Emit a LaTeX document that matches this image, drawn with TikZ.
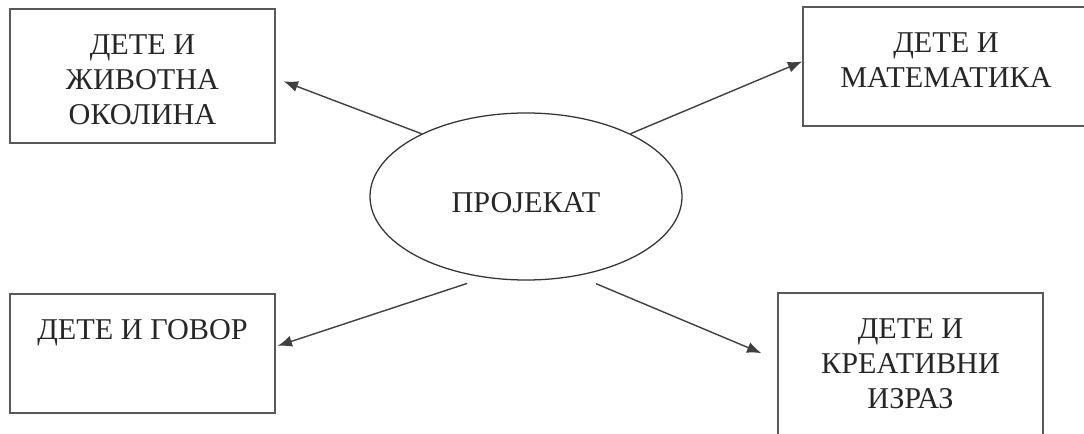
\documentclass[tikz,border=0pt]{standalone}
\usepackage{fontspec}
\setmainfont{Liberation Serif}
\usetikzlibrary{shapes.geometric, arrows.meta, positioning}
\tikzset{
  kutija/.style={draw=black!65, line width=1pt, inner sep=0pt},
  natpis/.style={align=center, inner sep=0pt, anchor=north, text=black!85,
    font=\fontsize{21.5}{24.9}\selectfont},
  strelica/.style={draw=black!75, line width=1pt, -{Latex[length=3.6mm, width=2.8mm]}}
}

\begin{document}
\begin{tikzpicture}[x=0.25mm, y=-0.25mm]
    % okvir (slika je odsecena desno i dole)
    \useasboundingbox (0,0) rectangle (1084,434);
    \clip (0,0) rectangle (1084,434);
    % elipsa u sredini
    \node[draw=black!80, line width=0.9pt, ellipse, inner sep=0pt,
      minimum width=78mm, minimum height=41.75mm,
      text=black!85, font=\fontsize{21.5}{24.9}\selectfont,
      text height=8.2mm, text depth=0pt] (projekat) at (526,196.5) {ПРОЈЕКАТ};
    % kutije
    \node[kutija, minimum width=66.25mm, minimum height=33.5mm] (okolina) at (142.5,76) {};
    \node[kutija, minimum width=71.5mm, minimum height=29.75mm] (matematika) at (946,66.5) {};
    \node[kutija, minimum width=66.25mm, minimum height=29.75mm] (govor) at (142.5,353.5) {};
    \node[kutija, minimum width=66.25mm, minimum height=35.75mm] (izraz) at (910.5,364.5) {};
    % tekst u kutijama
    \node[natpis] (okolinaT) at ([yshift=-6.5mm]okolina.north) {ДЕТЕ И\\ЖИВОТНА\\ОКОЛИНА};
    \node[natpis] (matematikaT) at ([yshift=-6.5mm]matematika.north) {ДЕТЕ И\\МАТЕМАТИКА};
    \node[natpis] (govorT) at ([yshift=-6.5mm]govor.north) {ДЕТЕ И ГОВОР};
    \node[natpis] (izrazT) at ([yshift=-6.5mm]izraz.north) {ДЕТЕ И\\КРЕАТИВНИ\\ИЗРАЗ};
    % strelice
    \draw[strelica, shorten >=2.1mm] (projekat.149) -- (okolina.-1);
    \draw[strelica] (projekat.31) -- (matematika.178);
    \draw[strelica, shorten <=4.6mm, shorten >=0.5mm] (projekat.243) -- (govor.3);
    \draw[strelica, shorten <=5mm, shorten >=4.3mm] (projekat.303) -- (izraz.178);
\end{tikzpicture}
\end{document}
